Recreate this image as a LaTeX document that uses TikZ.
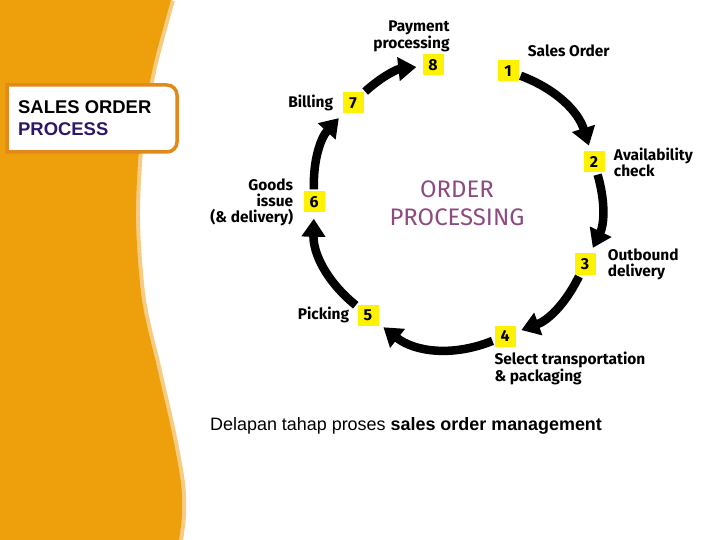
\documentclass[tikz,border=0pt]{standalone}
\usepackage{fontspec}
\setmainfont{Liberation Sans}
\newfontfamily\stepfont{Fira Sans}
\usetikzlibrary{positioning, arrows.meta}
\definecolor{bandorange}{HTML}{EDA00B}
\definecolor{bandpale}{HTML}{F7CC82}
\definecolor{frameorange}{HTML}{E2891B}
\definecolor{stepyellow}{HTML}{FFF200}
\definecolor{corepurple}{HTML}{8C4A80}
\definecolor{titlepurple}{HTML}{2D1768}
\tikzset{
    stepnum/.style={
        fill = stepyellow,
        minimum size = 21bp,
        inner sep = 0pt,
        font = \stepfont\bfseries\fontsize{16}{16}\selectfont
    },
    steplabel/.style={
        inner sep = 0pt,
        font = \stepfont\bfseries\fontsize{15.5}{16}\selectfont
    },
    flow/.style = {line width=8.5bp, -{Triangle[length=18bp, width=23bp]}, shorten <=2bp, shorten >=6bp}
}

\begin{document}
\begin{tikzpicture}[x=1bp, y=1bp]

    \useasboundingbox (0,0) rectangle (720,-540);

    % Orange band
    \draw[bandpale, line width=8bp] plot[smooth] coordinates {(171,0) (153,-67) (140,-140) (136,-220) (142,-300) (157,-367) (172,-433) (181,-483) (182,-515) (179,-540)};
    \fill[bandorange] (0,0) -- plot[smooth] coordinates {(171,0) (153,-67) (140,-140) (136,-220) (142,-300) (157,-367) (172,-433) (181,-483) (182,-515) (179,-540)} -- (0,-540) -- cycle;

    % Title box
    \draw[frameorange, line width=3.5bp, fill=white] (92,-85) [rounded corners=10bp] -- (177,-85) -- (177,-152) -- (92,-152) [sharp corners] -- (7,-152) -- (7,-85) -- cycle;
    \node[anchor=north west, align=left, inner sep=0pt,
        font=\bfseries\fontsize{18.5}{23}\selectfont] (title) at (18,-100) {SALES ORDER\\\textcolor{titlepurple}{PROCESS}};

    % Steps
    \node[stepnum] (n1) at (508,-71) {1};
    \node[stepnum] (n2) at (594,-162) {2};
    \node[stepnum] (n3) at (585,-264) {3};
    \node[stepnum] (n4) at (505,-336) {4};
    \node[stepnum] (n5) at (368,-315) {5};
    \node[stepnum] (n6) at (314,-202) {6};
    \node[stepnum] (n7) at (353,-103) {7};
    \node[stepnum] (n8) at (433,-65) {8};

    % Step labels
    \node[steplabel, above right = 3bp and 9bp of n1.north east] (lsales) {Sales Order};
    \node[steplabel, align=left, right = 9bp of n2] (lavail) {Availability\\check};
    \node[steplabel, align=left, right = 12bp of n3] (loutb) {Outbound\\delivery};
    \node[steplabel, align=left, below right = 5bp and 0bp of n4.south west] (lselect) {Select transportation\\\& packaging};
    \node[steplabel, left = 8bp of n5] (lpick) {Picking};
    \node[steplabel, align=right, left = 10bp of n6] (lgoods) {Goods\\issue\\(\& delivery)};
    \node[steplabel, left = 9bp of n7] (lbill) {Billing};
    \node[steplabel, align=right, above left = 2bp and -6bp of n8.north east] (lpay) {Payment\\processing};

    \node[font=\stepfont\fontsize{24}{28}\selectfont, text=corepurple, align=center] (core) at (457,-203) {ORDER\\PROCESSING};

    % Cycle
    \draw[flow] (n1) to[bend left=26] (n2);
    \draw[flow] (n2) to[bend left=21] (n3);
    \draw[flow] (n3) to[bend left=22] (n4);
    \draw[flow] (n4) to[bend left=30] (n5);
    \draw[flow] (n5) to[bend left=26] (n6);
    \draw[flow] (n6) to[bend left=22] (n7);
    \draw[flow] (n7) to[bend left=18] (n8);

    \node[anchor=west, inner sep=0pt, font=\fontsize{18}{20}\selectfont] (caption) at (210,-426) {Delapan tahap proses \textbf{sales order management}};

\end{tikzpicture}
\end{document}
